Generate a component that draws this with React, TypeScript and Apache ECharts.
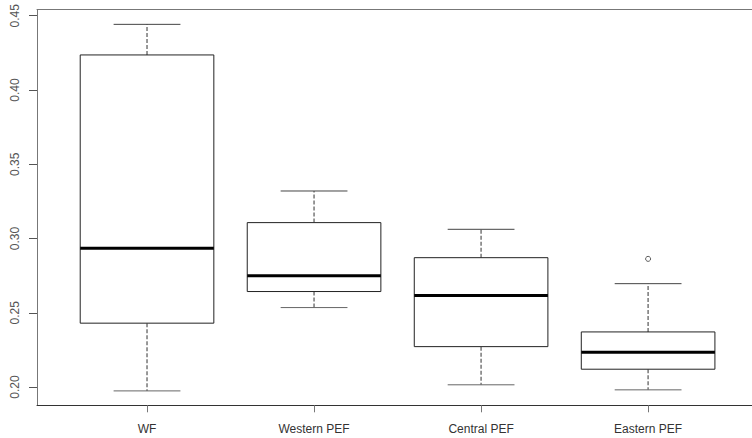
import React, { useEffect, useRef } from "react";
import * as echarts from "echarts";

const categories = ["WF", "Western PEF", "Central PEF", "Eastern PEF"];
const whiskerLow = [0.1974, 0.2535, 0.2015, 0.1981];
const q1 = [0.243, 0.2643, 0.2272, 0.212];
const median = [0.2935, 0.275, 0.2616, 0.2235];
const q3 = [0.4236, 0.3107, 0.2871, 0.2371];
const whiskerHigh = [0.4442, 0.332, 0.3062, 0.2696];
const outliers: [number, number][] = [[4, 0.2863]];
const yTicks = [0.2, 0.25, 0.3, 0.35, 0.4, 0.45];
const xTicks = [1, 2, 3, 4];

export default function App() {
  const ref = useRef<HTMLDivElement>(null);
  useEffect(() => {
    document.body.style.margin = "0";
    const chart = echarts.init(ref.current!, undefined, { renderer: "svg" });
    const boxData = categories.map((_, i) => [
      i + 1,
      whiskerLow[i],
      q1[i],
      median[i],
      q3[i],
      whiskerHigh[i],
    ]);
    const font = "'Liberation Sans', Arial, sans-serif";
    chart.setOption({
      animation: false,
      backgroundColor: "#ffffff",
      grid: {
        left: 37,
        top: 9.5,
        right: 0,
        height: 395.8,
        show: false,
      },
      xAxis: [
        {
          type: "value",
          min: 0.3413,
          max: 4.622,
          splitLine: { show: false },
          axisLine: { show: true, onZero: false, lineStyle: { color: "#333", width: 1 } },
          axisTick: {
            show: true,
            customValues: xTicks,
            length: 7,
            lineStyle: { color: "#777" },
          },
          axisLabel: {
            customValues: xTicks,
            formatter: (v: number) => categories[Math.round(v) - 1] ?? "",
            margin: 18,
            color: "#333",
            fontSize: 12,
            fontFamily: font,
          },
        },
        {
          type: "value",
          position: "top",
          min: 0.3413,
          max: 4.622,
          splitLine: { show: false },
          axisLine: { show: true, onZero: false, lineStyle: { color: "#777", width: 1 } },
          axisTick: { show: false },
          axisLabel: { show: false },
        },
      ],
      yAxis: {
        type: "value",
        min: 0.1877,
        max: 0.4542,
        splitLine: { show: false },
        axisLine: { show: true, onZero: false, lineStyle: { color: "#777", width: 1 } },
        axisTick: {
          show: true,
          customValues: yTicks,
          length: 8,
          lineStyle: { color: "#555" },
        },
        axisLabel: {
          customValues: yTicks,
          formatter: (v: number) => v.toFixed(2),
          rotate: 90,
          margin: 16,
          color: "#555",
          fontSize: 12,
          fontFamily: font,
        },
      },
      series: [
        {
          type: "custom",
          xAxisIndex: 0,
          data: boxData,
          encode: { x: 0, y: [1, 2, 3, 4, 5] },
          renderItem: (params: any, api: any) => {
            const x = api.value(0);
            const lo = api.coord([x, api.value(1)]);
            const b1 = api.coord([x, api.value(2)]);
            const md = api.coord([x, api.value(3)]);
            const b3 = api.coord([x, api.value(4)]);
            const hi = api.coord([x, api.value(5)]);
            const half = api.size([0.8, 0])[0] / 2;
            const capHalf = api.size([0.4, 0])[0] / 2;
            const cx = lo[0];
            return {
              type: "group",
              children: [
                {
                  type: "line",
                  shape: { x1: cx, y1: b3[1], x2: cx, y2: hi[1] },
                  style: { stroke: "#777", lineWidth: 1.5, lineDash: [4, 2] },
                },
                {
                  type: "line",
                  shape: { x1: cx, y1: b1[1], x2: cx, y2: lo[1] },
                  style: { stroke: "#777", lineWidth: 1.5, lineDash: [4, 2] },
                },
                {
                  type: "line",
                  shape: { x1: cx - capHalf, y1: hi[1], x2: cx + capHalf, y2: hi[1] },
                  style: { stroke: "#444", lineWidth: 1 },
                },
                {
                  type: "line",
                  shape: { x1: cx - capHalf, y1: lo[1], x2: cx + capHalf, y2: lo[1] },
                  style: { stroke: "#666", lineWidth: 1 },
                },
                {
                  type: "rect",
                  shape: {
                    x: cx - half,
                    y: b3[1],
                    width: half * 2,
                    height: b1[1] - b3[1],
                  },
                  style: { fill: "#fff", stroke: "#222", lineWidth: 1 },
                },
                {
                  type: "line",
                  shape: { x1: cx - half, y1: md[1], x2: cx + half, y2: md[1] },
                  style: { stroke: "#000", lineWidth: 3 },
                },
              ],
            };
          },
        },
        {
          type: "scatter",
          xAxisIndex: 0,
          data: outliers,
          symbol: "circle",
          symbolSize: 5,
          itemStyle: { color: "#fff", borderColor: "#333", borderWidth: 1 },
        },
      ],
    });
    return () => chart.dispose();
  }, []);
  return <div ref={ref} style={{ width: 752, height: 438 }} />;
}
